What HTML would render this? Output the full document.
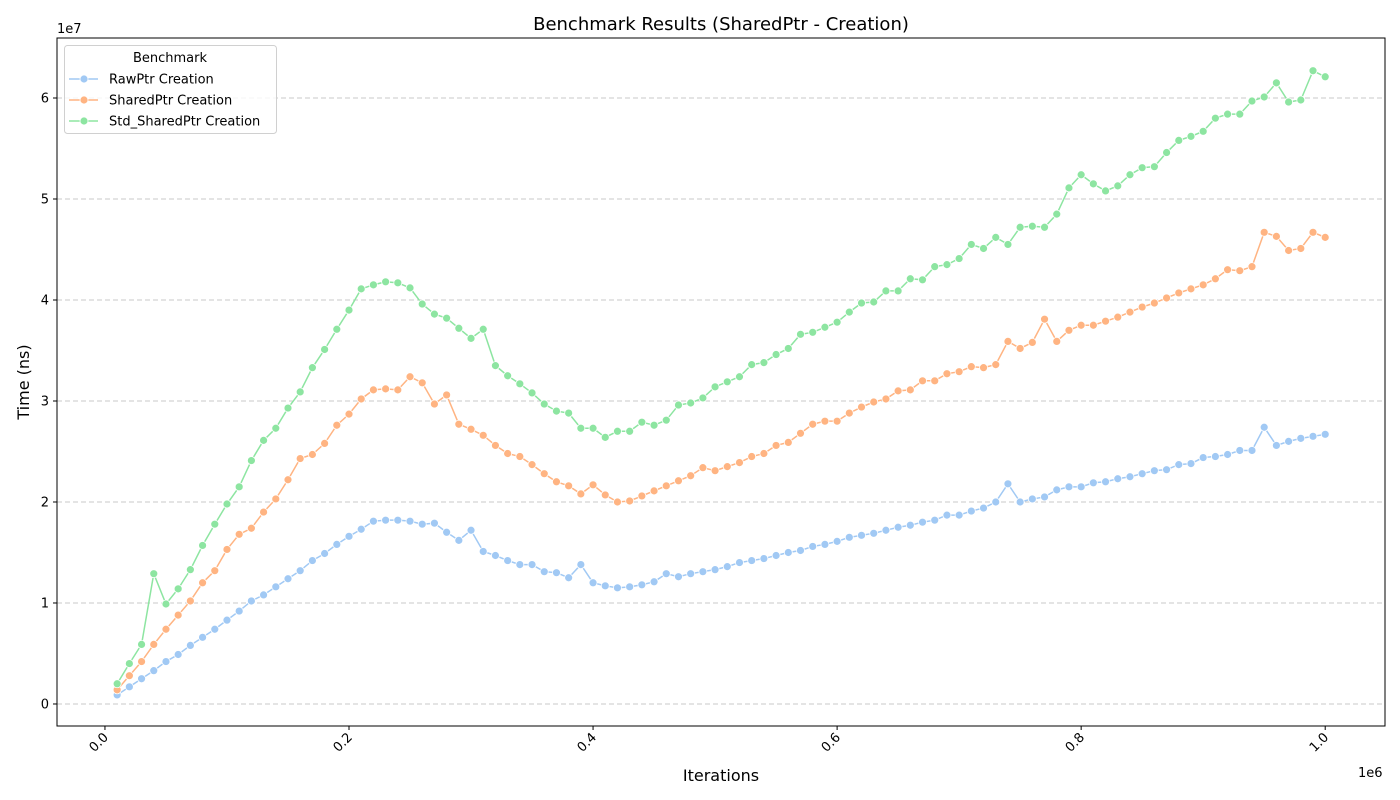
<!DOCTYPE html>
<html><head><meta charset="utf-8"><style>
body{margin:0;background:#fff;}
svg{display:block;font-family:"DejaVu Sans","Liberation Sans",sans-serif;}
</style></head><body>
<svg id="chart" width="1400" height="800" xmlns="http://www.w3.org/2000/svg"></svg>
<script>
const xValues = [];
for (let i = 1; i <= 100; i++) xValues.push(i * 10000);
const rawPtr = [0.09,0.17,0.25,0.33,0.42,0.49,0.58,0.66,0.74,0.83,0.92,1.02,1.08,1.16,1.24,1.32,1.42,1.49,1.58,1.66,1.73,1.81,1.82,1.82,1.81,1.78,1.79,1.70,1.62,1.72,1.51,1.47,1.42,1.38,1.38,1.31,1.30,1.25,1.38,1.20,1.17,1.15,1.16,1.18,1.21,1.29,1.26,1.29,1.31,1.33,1.36,1.40,1.42,1.44,1.47,1.50,1.52,1.56,1.58,1.61,1.65,1.67,1.69,1.72,1.75,1.77,1.80,1.82,1.87,1.87,1.91,1.94,2.00,2.18,2.00,2.03,2.05,2.12,2.15,2.15,2.19,2.20,2.23,2.25,2.28,2.31,2.32,2.37,2.38,2.44,2.45,2.47,2.51,2.51,2.74,2.56,2.60,2.63,2.65,2.67];
const sharedPtr = [0.14,0.28,0.42,0.59,0.74,0.88,1.02,1.20,1.32,1.53,1.68,1.74,1.90,2.03,2.22,2.43,2.47,2.58,2.76,2.87,3.02,3.11,3.12,3.11,3.24,3.18,2.97,3.06,2.77,2.72,2.66,2.56,2.48,2.45,2.37,2.28,2.20,2.16,2.08,2.17,2.07,2.00,2.01,2.06,2.11,2.16,2.21,2.26,2.34,2.31,2.35,2.39,2.45,2.48,2.56,2.59,2.68,2.77,2.80,2.80,2.88,2.94,2.99,3.02,3.10,3.11,3.20,3.20,3.27,3.29,3.34,3.33,3.36,3.59,3.52,3.58,3.81,3.59,3.70,3.75,3.75,3.79,3.83,3.88,3.93,3.97,4.02,4.07,4.11,4.15,4.21,4.30,4.29,4.33,4.67,4.63,4.49,4.51,4.67,4.62];
const stdSharedPtr = [0.20,0.40,0.59,1.29,0.99,1.14,1.33,1.57,1.78,1.98,2.15,2.41,2.61,2.73,2.93,3.09,3.33,3.51,3.71,3.90,4.11,4.15,4.18,4.17,4.12,3.96,3.86,3.82,3.72,3.62,3.71,3.35,3.25,3.17,3.08,2.97,2.90,2.88,2.73,2.73,2.64,2.70,2.70,2.79,2.76,2.81,2.96,2.98,3.03,3.14,3.19,3.24,3.36,3.38,3.46,3.52,3.66,3.68,3.73,3.78,3.88,3.97,3.98,4.09,4.09,4.21,4.20,4.33,4.35,4.41,4.55,4.51,4.62,4.55,4.72,4.73,4.72,4.85,5.11,5.24,5.15,5.08,5.13,5.24,5.31,5.32,5.46,5.58,5.62,5.67,5.80,5.84,5.84,5.97,6.01,6.15,5.96,5.98,6.27,6.21];
const xTicks = [0,0.2,0.4,0.6,0.8,1.0];
const xTickLabels = ["0.0","0.2","0.4","0.6","0.8","1.0"];
const yTicks = [0,1,2,3,4,5,6];
const yTickLabels = ["0","1","2","3","4","5","6"];
const seriesNames = ["RawPtr Creation","SharedPtr Creation","Std_SharedPtr Creation"];

const NS = "http://www.w3.org/2000/svg";
const svg = document.getElementById("chart");
const L=57,R=1385,T=38,B=726;
const xMin=-0.0393e6,xMax=1.049e6,yMin=-0.218,yMax=6.594;
const xs = v => L + (v - xMin)/(xMax - xMin)*(R - L);
const ys = v => B - (v - yMin)/(yMax - yMin)*(B - T);
function mk(tag, attrs, parent){const e=document.createElementNS(NS,tag);for(const k in attrs)e.setAttribute(k,attrs[k]);(parent||svg).appendChild(e);return e;}

const title = mk("text",{x:721,y:30,"text-anchor":"middle","font-size":18,fill:"#000"});
title.textContent="Benchmark Results (SharedPtr - Creation)";



// grid + y ticks
yTicks.forEach((t,i)=>{
  const y=ys(t);
  const g=mk("line",{x1:L,x2:R,y1:y,y2:y,stroke:"#c8c8c8","stroke-width":1,"stroke-dasharray":"5,3"});
  
  
  mk("line",{x1:L-4,x2:L,y1:y,y2:y,stroke:"#000"});
  const tx=mk("text",{x:L-8,y:y+4.5,"text-anchor":"end","font-size":13});
  tx.textContent=yTickLabels[i];
  
  
});
xTicks.forEach((t,i)=>{
  const x=xs(t*1e6);
  mk("line",{x1:x,x2:x,y1:B,y2:B+4,stroke:"#000"});
  const tx=mk("text",{x:0,y:0,"text-anchor":"end","font-size":13,transform:`translate(${x+4},${B+12}) rotate(-45)`});
  tx.textContent=xTickLabels[i];
  
  
});
const e7=mk("text",{x:57,y:33,"font-size":13});e7.textContent="1e7";


const e6=mk("text",{x:1358,y:777,"font-size":13});e6.textContent="1e6";


const xl=mk("text",{x:721,y:781,"text-anchor":"middle","font-size":16});xl.textContent="Iterations";


const yl=mk("text",{x:0,y:0,"text-anchor":"middle","font-size":16,transform:"translate(29,382) rotate(-90)"});yl.textContent="Time (ns)";



const colors=["#a1c9f4","#ffb482","#8de5a1"];
const data=[rawPtr,sharedPtr,stdSharedPtr];
data.forEach((arr,si)=>{
  const g=mk("g",{});
  
  
  const pts=arr.map((v,i)=>xs(xValues[i])+","+ys(v)).join(" ");
  mk("polyline",{points:pts,fill:"none",stroke:colors[si],"stroke-width":1.5},g);
  arr.forEach((v,i)=>{
    const c=mk("circle",{cx:xs(xValues[i]),cy:ys(v),r:4,fill:colors[si],stroke:"#fff","stroke-width":0.8},g);
    
    
  });
});

mk("rect",{x:L,y:T,width:R-L,height:B-T,fill:"none",stroke:"#000","stroke-width":1});

// legend
const lg=mk("g",{});


mk("rect",{x:64.5,y:45.5,width:212,height:88,rx:3,fill:"#fff","fill-opacity":0.8,stroke:"#d0d0d0"},lg);
const lt=mk("text",{x:170,y:62,"text-anchor":"middle","font-size":13},lg);lt.textContent="Benchmark";
seriesNames.forEach((n,i)=>{
  const y=79+i*21;
  mk("line",{x1:69,x2:98,y1:y,y2:y,stroke:colors[i],"stroke-width":1.5},lg);
  mk("circle",{cx:84,cy:y,r:4,fill:colors[i],stroke:"#fff","stroke-width":0.8},lg);
  const t=mk("text",{x:109,y:y+4.5,"font-size":13},lg);t.textContent=n;
  
  
});
</script>
</body></html>
